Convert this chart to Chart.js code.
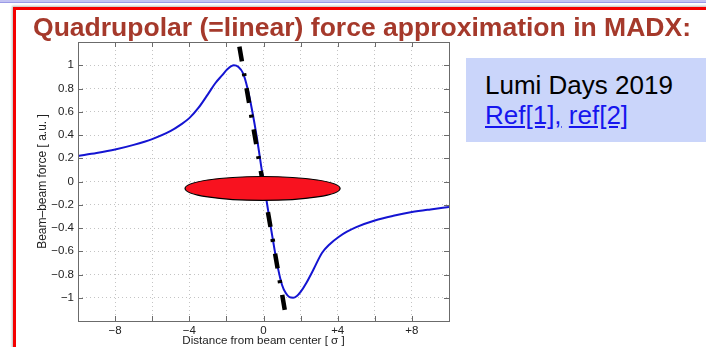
<!DOCTYPE html>
<html>
<head>
<meta charset="utf-8">
<script src="https://cdn.jsdelivr.net/npm/chart.js@4/dist/chart.umd.min.js"></script>
<style>
  body { margin: 0; width: 706px; height: 347px; overflow: hidden; background: #fff; position: relative; font-family: "Liberation Sans", Arial, sans-serif; }
  #topStrip { position: absolute; left: 0; top: 0; width: 706px; height: 2px; background: #c3c3f2; border-bottom: 1px solid #9a9ae6; }
  #frame { position: absolute; left: 13px; top: 7px; width: 720px; height: 360px; border-left: 3px solid #f40000; border-top: 3px solid #f40000; box-shadow: -1px -1px 2px #bbb; }
  #title { position: absolute; left: 33px; top: 12px; font-family: "Liberation Sans Narrow", "Arial Narrow", "Liberation Sans", sans-serif; font-weight: bold; font-size: 26.5px; color: #a5392b; white-space: nowrap; z-index: 3; transform-origin: 0 0; }
  #lumi { position: absolute; left: 466px; top: 58px; width: 240px; height: 84px; background: #cad5fa; }
  #lumi .l1 { position: absolute; left: 19px; top: 12px; font-size: 26px; color: #000; white-space: nowrap; }
  #lumi .l2 { position: absolute; left: 19px; top: 42px; font-size: 26px; white-space: nowrap; }
  #lumi a { color: #1616ee; text-decoration: underline; }
  #chart { position: absolute; left: 0; top: 0; z-index: 2; }
</style>
</head>
<body>
<div id="topStrip"></div>
<div id="frame"></div>
<div id="lumi"><div class="l1">Lumi Days 2019</div><div class="l2"><a href="#">Ref[1],</a> <a href="#">ref[2]</a></div></div>
<div id="title">Quadrupolar (=linear) force approximation in MADX:</div>
<canvas id="chart" width="706" height="347"></canvas>
<script>
// beam-beam force curve
const forceX = [-10, -9, -8, -7, -6, -5, -4.5, -4, -3.5, -3, -2.6, -2.25, -1.95, -1.6, -1.35, -1.1, -0.86, -0.6, -0.35, -0.18, 0,
  0.2, 0.4, 0.6, 0.8, 1.0, 1.2, 1.4, 1.6, 1.8, 2.0, 2.3, 2.7, 3.15, 3.6, 4.05, 4.5, 5, 6, 7, 8, 9, 10];
const forceY = [0.22, 0.245, 0.275, 0.315, 0.365, 0.435, 0.485, 0.545, 0.635, 0.75, 0.845, 0.91, 0.965, 1.0, 0.985, 0.93, 0.8, 0.6, 0.37, 0.19, 0,
  -0.2, -0.4, -0.59, -0.76, -0.89, -0.96, -0.995, -1.0, -0.985, -0.95, -0.875, -0.755, -0.615, -0.535, -0.477, -0.432, -0.392, -0.335, -0.295, -0.263, -0.24, -0.22];

// linear (quadrupolar) approximation
const approxX = [-1.3, 1.25];
const approxY = [1.16, -1.2];

// beam ellipse (centre and half axes, in data units)
const beamCenter = [-0.05, -0.06];
const beamRadius = [4.18, 0.103];

const xTickValues = [-8, -4, 0, 4, 8];
const xTickText = ["\u22128", "\u22124", "0", "+4", "+8"];
const yTickValues = [1, 0.8, 0.6, 0.4, 0.2, 0, -0.2, -0.4, -0.6, -0.8, -1];
const yTickText = ["1", "0.8", "0.6", "0.4", "0.2", "0", "\u22120.2", "\u22120.4", "\u22120.6", "\u22120.8", "\u22121"];

// squeeze title to its width in the slide
const titleEl = document.getElementById("title");
const tw = titleEl.getBoundingClientRect().width;
titleEl.style.transform = "scaleX(" + (658 / tw) + ")";

const lookup = (vals, texts, v) => {
  const i = vals.findIndex((t) => Math.abs(t - v) < 1e-6);
  return i < 0 ? "" : texts[i];
};

const boxPlugin = {
  id: "matlabBox",
  afterDatasetsDraw(chart) {
    const { ctx, scales: { x, y } } = chart;
    const cx = x.getPixelForValue(beamCenter[0]);
    const cy = y.getPixelForValue(beamCenter[1]);
    const rx = Math.abs(x.getPixelForValue(beamCenter[0] + beamRadius[0]) - cx);
    const ry = Math.abs(y.getPixelForValue(beamCenter[1] + beamRadius[1]) - cy);
    ctx.save();
    ctx.beginPath();
    ctx.ellipse(cx, cy, rx, ry, 0, 0, Math.PI * 2);
    ctx.fillStyle = "#f8121f";
    ctx.fill();
    ctx.lineWidth = 1.2;
    ctx.strokeStyle = "#000";
    ctx.stroke();
    ctx.restore();
  },
  afterDraw(chart) {
    const { ctx, chartArea: a, scales: { x, y } } = chart;
    ctx.save();
    ctx.strokeStyle = "#6b6b6b";
    ctx.lineWidth = 1;
    ctx.strokeRect(Math.round(a.left) + 0.5, Math.round(a.top) + 0.5, Math.round(a.right - a.left), Math.round(a.bottom - a.top));
    ctx.beginPath();
    x.ticks.forEach((t) => {
      const px = Math.round(x.getPixelForValue(t.value)) + 0.5;
      ctx.moveTo(px, a.bottom); ctx.lineTo(px, a.bottom - 5);
      ctx.moveTo(px, a.top); ctx.lineTo(px, a.top + 5);
    });
    y.ticks.forEach((t) => {
      const py = Math.round(y.getPixelForValue(t.value)) + 0.5;
      ctx.moveTo(a.left, py); ctx.lineTo(a.left + 5, py);
      ctx.moveTo(a.right, py); ctx.lineTo(a.right - 5, py);
    });
    ctx.stroke();
    ctx.restore();
  }
};

const tickFont = { family: "'Liberation Sans', Arial, sans-serif", size: 11.5 };

new Chart(document.getElementById("chart"), {
  type: "scatter",
  data: {
    datasets: [
      {
        label: "quadrupolar approximation",
        data: approxX.map((v, i) => ({ x: v, y: approxY[i] })),
        showLine: true,
        borderColor: "#000",
        borderWidth: 4.5,
        borderDash: [15, 12, 3, 12],
        borderCapStyle: "butt",
        pointRadius: 0,
        fill: false
      },
      {
        label: "beam-beam force",
        data: forceX.map((v, i) => ({ x: v, y: forceY[i] })),
        showLine: true,
        borderColor: "#1414d2",
        borderWidth: 2,
        cubicInterpolationMode: "monotone",
        pointRadius: 0,
        fill: false
      }
    ]
  },
  options: {
    responsive: false,
    animation: false,
    layout: { padding: { left: 0, top: 42, right: 257, bottom: 0 } },
    plugins: { legend: { display: false }, tooltip: { enabled: false } },
    scales: {
      x: {
        type: "linear",
        min: -10,
        max: 10,
        afterFit: (s) => { s.height = 26; },
        ticks: {
          stepSize: 2,
          autoSkip: false,
          maxRotation: 0,
          padding: 3,
          color: "#222",
          font: tickFont,
          callback: (v) => lookup(xTickValues, xTickText, v)
        },
        grid: { color: "#c4c4c4", lineWidth: 1, drawTicks: false },
        border: { display: false, dash: [1, 3] },
        title: {
          display: true,
          text: "Distance from beam center [ \u03c3 ]",
          color: "#222",
          font: { family: "'Liberation Sans', Arial, sans-serif", size: 11.6, lineHeight: 1 },
          padding: { top: 0, bottom: 0 }
        }
      },
      y: {
        min: -1.2,
        max: 1.2,
        afterFit: (s) => { s.width = 78; },
        ticks: {
          stepSize: 0.2,
          autoSkip: false,
          padding: 4,
          color: "#222",
          font: tickFont,
          callback: (v) => lookup(yTickValues, yTickText, v)
        },
        grid: { color: "#c4c4c4", lineWidth: 1, drawTicks: false },
        border: { display: false, dash: [1, 3] },
        title: {
          display: true,
          text: "Beam\u2013beam force [ a.u. ]",
          color: "#222",
          font: { family: "'Liberation Sans', Arial, sans-serif", size: 12, lineHeight: 1 },
          padding: { top: 37, bottom: 0 }
        }
      }
    }
  },
  plugins: [boxPlugin]
});
</script>
</body>
</html>
